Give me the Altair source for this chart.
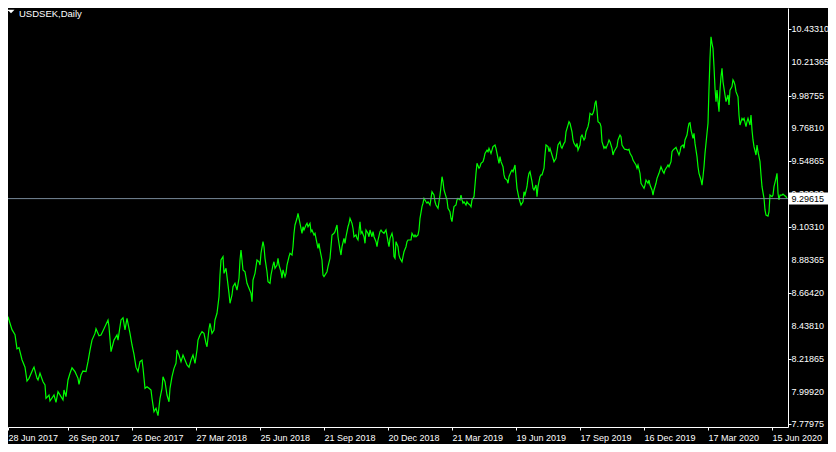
import altair as alt
import pandas as pd

symbol_title = "USDSEK,Daily"
last_price = 9.29615

tick_labels = ["28 Jun 2017", "26 Sep 2017", "26 Dec 2017", "27 Mar 2018", "25 Jun 2018",
               "21 Sep 2018", "20 Dec 2018", "21 Mar 2019", "19 Jun 2019", "17 Sep 2019",
               "16 Dec 2019", "17 Mar 2020", "15 Jun 2020"]
tick_bars = [0, 64, 128, 192, 256, 320, 384, 448, 512, 576, 640, 704, 768]
price_ticks = [10.43310, 10.21365, 9.98755, 9.76810, 9.54865, 9.32920, 9.10310,
               8.88365, 8.66420, 8.43810, 8.21865, 7.99920, 7.77975]

bar = [0, 2, 4, 8, 11, 13, 15, 18, 21, 23, 25, 29, 30, 33, 34, 36, 39, 41, 42, 45, 46, 50, 52, 54, 59, 60, 62, 64,
       66, 68, 71, 74, 75, 77, 79, 82, 84, 86, 88, 91, 92, 95, 97, 100, 104, 105, 107, 110, 113, 114, 117, 119, 121,
       123, 126, 128, 130, 132, 134, 136, 138, 139, 141, 143, 145, 147, 148, 150, 152, 154, 156, 158, 159, 161, 163,
       165, 166, 168, 170, 172, 173, 175, 177, 179, 181, 183, 185, 187, 189, 191, 193, 194, 196, 198, 200, 202, 203,
       205, 206, 208, 210, 211, 213, 215, 216, 217, 219, 220, 222, 223, 225, 226, 228, 229, 231, 233, 235, 236, 237,
       239, 241, 243, 245, 247, 248, 249, 251, 253, 255, 256, 257, 259, 260, 261, 263, 264, 266, 267, 269, 270, 271,
       273, 274, 275, 277, 278, 279, 281, 282, 283, 285, 286, 288, 289, 290, 291, 293, 294, 295, 296, 298, 299, 300,
       302, 303, 304, 306, 307, 308, 310, 311, 312, 314, 315, 316, 318, 319, 320, 322, 323, 324, 326, 327, 328, 330,
       331, 332, 333, 334, 336, 337, 338, 340, 341, 342, 344, 345, 346, 348, 349, 350, 352, 353, 354, 356, 357, 358,
       360, 361, 362, 364, 365, 366, 368, 369, 370, 372, 373, 374, 376, 377, 378, 380, 381, 382, 384, 385, 386, 388,
       389, 390, 391, 392, 394, 395, 396, 398, 399, 400, 402, 403, 404, 406, 407, 408, 410, 411, 412, 414, 415, 416,
       418, 419, 420, 422, 423, 424, 426, 427, 428, 430, 431, 432, 434, 435, 436, 437, 438, 439, 440, 442, 443, 444,
       446, 447, 448, 449, 450, 452, 453, 454, 456, 457, 458, 459, 460, 462, 463, 464, 466, 467, 468, 470, 471, 472,
       473, 475, 476, 477, 479, 480, 481, 483, 484, 485, 487, 488, 489, 491, 492, 493, 495, 496, 497, 499, 500, 501,
       503, 504, 505, 507, 508, 509, 511, 512, 513, 515, 516, 517, 519, 520, 521, 523, 524, 525, 526, 528, 529, 530,
       532, 533, 534, 536, 537, 538, 540, 541, 542, 544, 545, 546, 548, 549, 550, 552, 553, 554, 556, 557, 558, 560,
       561, 562, 564, 565, 566, 568, 569, 570, 572, 573, 574, 576, 577, 578, 580, 581, 582, 584, 585, 586, 588, 589,
       590, 591, 592, 593, 594, 596, 597, 598, 600, 601, 602, 604, 605, 606, 608, 609, 610, 612, 613, 614, 616, 617,
       618, 620, 621, 622, 624, 625, 626, 628, 629, 630, 632, 633, 634, 636, 637, 638, 640, 641, 642, 644, 645, 646,
       648, 649, 650, 652, 653, 655, 656, 657, 659, 660, 661, 663, 664, 665, 667, 668, 669, 671, 672, 673, 675, 676,
       677, 679, 680, 681, 683, 684, 685, 686, 687, 689, 690, 691, 693, 694, 695, 697, 698, 699, 700, 701, 703, 704,
       705, 706, 707, 708, 709, 710, 711, 712, 713, 714, 715, 716, 717, 718, 719, 720, 721, 722, 724, 725, 726, 728,
       729, 730, 731, 732, 734, 735, 736, 738, 739, 740, 742, 743, 744, 746, 747, 748, 749, 750, 752, 753, 754, 756,
       757, 758, 760, 761, 762, 764, 765, 766, 768, 769, 770, 772, 773, 774, 775, 776, 778, 779, 780, 782, 783]

close = [8.537, 8.422, 8.503, 8.416, 8.382, 8.288, 8.295, 8.214, 8.164, 8.071, 8.089, 8.152, 8.164, 8.089, 8.078,
         8.123, 8.066, 8.044, 7.955, 7.977, 7.937, 7.977, 7.928, 7.999, 7.944, 8.011, 7.966, 8.078, 8.123, 8.160,
         8.134, 8.089, 8.049, 8.111, 8.138, 8.134, 8.201, 8.279, 8.346, 8.391, 8.422, 8.375, 8.380, 8.422, 8.481,
         8.436, 8.268, 8.346, 8.380, 8.346, 8.481, 8.496, 8.414, 8.492, 8.391, 8.313, 8.250, 8.164, 8.134, 8.201,
         8.212, 8.160, 8.022, 8.033, 8.022, 8.011, 7.955, 7.865, 7.888, 7.838, 7.955, 8.022, 8.100, 8.066, 7.977,
         7.932, 8.022, 8.100, 8.156, 8.190, 8.279, 8.246, 8.201, 8.246, 8.212, 8.179, 8.164, 8.212, 8.246, 8.190,
         8.279, 8.346, 8.380, 8.402, 8.391, 8.324, 8.301, 8.422, 8.459, 8.391, 8.414, 8.481, 8.526, 8.637, 8.783,
         8.884, 8.906, 8.794, 8.828, 8.772, 8.660, 8.593, 8.649, 8.704, 8.727, 8.682, 8.761, 8.884, 8.951, 8.817,
         8.805, 8.727, 8.694, 8.660, 8.604, 8.749, 8.794, 8.884, 8.872, 8.850, 8.929, 9.007, 8.973, 8.895, 8.805,
         8.738, 8.727, 8.783, 8.850, 8.872, 8.828, 8.850, 8.895, 8.850, 8.805, 8.761, 8.817, 8.772, 8.794, 8.850,
         8.906, 8.929, 8.917, 8.973, 9.063, 9.119, 9.164, 9.197, 9.164, 9.130, 9.063, 9.107, 9.085, 9.119, 9.130,
         9.107, 9.130, 9.074, 9.085, 9.052, 9.063, 9.029, 8.962, 8.996, 8.951, 8.884, 8.783, 8.772, 8.794, 8.805,
         8.839, 8.895, 8.973, 9.052, 9.063, 9.074, 9.097, 9.119, 9.040, 8.951, 8.917, 8.973, 9.029, 8.996, 9.040,
         9.107, 9.130, 9.164, 9.130, 9.097, 9.040, 9.052, 9.029, 9.018, 9.141, 9.063, 9.074, 9.040, 8.996, 9.085,
         9.063, 9.040, 9.085, 9.040, 9.074, 9.040, 9.007, 8.973, 9.018, 9.074, 9.085, 9.074, 9.063, 9.074, 9.085,
         9.007, 8.973, 9.029, 9.063, 9.029, 8.906, 8.895, 9.007, 8.973, 8.917, 8.895, 8.872, 8.906, 8.939, 8.973,
         9.007, 9.018, 9.018, 9.018, 9.063, 9.040, 9.052, 9.040, 9.052, 9.085, 9.164, 9.242, 9.265, 9.298, 9.275,
         9.265, 9.275, 9.253, 9.298, 9.342, 9.320, 9.275, 9.253, 9.231, 9.275, 9.320, 9.376, 9.443, 9.410, 9.354,
         9.309, 9.287, 9.231, 9.208, 9.164, 9.141, 9.197, 9.242, 9.253, 9.287, 9.298, 9.287, 9.320, 9.287, 9.265,
         9.275, 9.253, 9.275, 9.265, 9.253, 9.242, 9.287, 9.309, 9.387, 9.466, 9.533, 9.500, 9.510, 9.533, 9.544,
         9.567, 9.600, 9.622, 9.611, 9.634, 9.600, 9.622, 9.645, 9.656, 9.634, 9.600, 9.533, 9.578, 9.544, 9.510,
         9.455, 9.432, 9.421, 9.399, 9.443, 9.477, 9.488, 9.477, 9.522, 9.443, 9.365, 9.298, 9.275, 9.253, 9.275,
         9.342, 9.320, 9.376, 9.432, 9.466, 9.477, 9.410, 9.365, 9.354, 9.387, 9.309, 9.376, 9.443, 9.455, 9.455,
         9.500, 9.589, 9.656, 9.645, 9.611, 9.634, 9.589, 9.567, 9.544, 9.567, 9.611, 9.656, 9.678, 9.645, 9.634,
         9.667, 9.678, 9.745, 9.790, 9.813, 9.802, 9.745, 9.690, 9.667, 9.645, 9.667, 9.622, 9.656, 9.712, 9.723,
         9.690, 9.701, 9.745, 9.779, 9.813, 9.869, 9.858, 9.869, 9.891, 9.936, 9.954, 9.891, 9.813, 9.802, 9.779,
         9.678, 9.634, 9.645, 9.634, 9.667, 9.690, 9.678, 9.634, 9.589, 9.611, 9.634, 9.645, 9.690, 9.723, 9.712,
         9.656, 9.634, 9.627, 9.627, 9.622, 9.627, 9.600, 9.578, 9.555, 9.544, 9.522, 9.500, 9.522, 9.466, 9.399,
         9.387, 9.365, 9.387, 9.421, 9.399, 9.421, 9.387, 9.354, 9.320, 9.354, 9.399, 9.432, 9.466, 9.488, 9.510,
         9.477, 9.466, 9.488, 9.510, 9.522, 9.510, 9.544, 9.611, 9.622, 9.634, 9.641, 9.622, 9.589, 9.611, 9.645,
         9.656, 9.634, 9.690, 9.723, 9.768, 9.802, 9.806, 9.757, 9.701, 9.735, 9.667, 9.578, 9.510, 9.466, 9.421,
         9.387, 9.443, 9.510, 9.600, 9.735, 9.802, 10.037, 10.238, 10.383, 10.339, 10.305, 10.182, 10.037, 9.947,
         10.025, 9.947, 9.880, 10.025, 10.115, 10.171, 10.081, 10.037, 9.992, 9.947, 9.992, 9.925, 10.025, 10.048,
         10.093, 10.081, 10.059, 10.014, 9.980, 9.858, 9.790, 9.835, 9.824, 9.835, 9.779, 9.813, 9.835, 9.790,
         9.858, 9.757, 9.690, 9.645, 9.589, 9.656, 9.611, 9.544, 9.455, 9.376, 9.298, 9.220, 9.186, 9.179, 9.208,
         9.320, 9.309, 9.320, 9.376, 9.432, 9.466, 9.332, 9.287, 9.320, 9.320, 9.327, 9.320, 9.309, 9.29615]

series = pd.DataFrame({"bar": bar, "price": close})
ticks_df = pd.DataFrame({"price": price_ticks})
last = pd.DataFrame({"price": [last_price], "label": [f"{last_price:.5f}"]})
head = pd.DataFrame({"label": [symbol_title]})

FONT = "Liberation Sans"
x_domain = [4, 784]
y_domain = [7.7622, 10.5762]
xscale = alt.Scale(domain=x_domain, nice=False, zero=False)
yscale = alt.Scale(domain=y_domain, nice=False, zero=False)

label_expr = "[" + ",".join(f"'{t}'" for t in tick_labels) + "][round(datum.value / 64)]"
x_values = [max(b, x_domain[0]) for b in tick_bars]

line = alt.Chart(series).mark_line(color="#00ff00", strokeWidth=1.2, clip=True).encode(
    x=alt.X("bar:Q", scale=xscale, axis=alt.Axis(
        values=x_values, labelExpr=label_expr, title=None, grid=False,
        labelAlign="left", labelBaseline="top", labelPadding=3, tickSize=3,
        labelColor="white", labelFont=FONT, labelFontSize=9,
        domainColor="white", tickColor="white", labelOverlap=False, labelFlush=False)),
    y=alt.Y("price:Q", scale=yscale, axis=alt.Axis(
        orient="right", values=price_ticks, labels=False, title=None, grid=False,
        tickSize=3, domainColor="white", tickColor="white")),
)

bid = alt.Chart(last).mark_rule(color="#778899", strokeWidth=1).encode(
    y=alt.Y("price:Q", scale=yscale))

price_labels = alt.Chart(ticks_df).mark_text(
    align="left", baseline="middle", color="white", font=FONT, fontSize=9, clip=False).encode(
    x=alt.value(783.5), y=alt.Y("price:Q", scale=yscale),
    text=alt.Text("price:Q", format=".5f"))

box = alt.Chart(last).mark_point(
    shape="M-1,-0.3077L1,-0.3077L1,0.3077L-1,0.3077Z", filled=True, size=1521,
    color="white", opacity=1, strokeWidth=0, clip=False).encode(
    x=alt.value(800.5), y=alt.Y("price:Q", scale=yscale))

box_text = alt.Chart(last).mark_text(
    align="left", baseline="middle", color="black", font=FONT, fontSize=9).encode(
    x=alt.value(783.5), y=alt.Y("price:Q", scale=yscale), text="label:N")

tri = alt.Chart(head).mark_point(
    shape="M-1,-0.5L1,-0.5L0,0.5Z", filled=True, size=49, color="white",
    opacity=1, strokeWidth=0).encode(x=alt.value(3), y=alt.value(3.5))

title_text = alt.Chart(head).mark_text(
    align="left", baseline="middle", color="white", font=FONT, fontSize=9.5).encode(
    x=alt.value(11), y=alt.value(5.5), text="label:N")

chart = alt.layer(line, bid, price_labels, box, box_text, tri, title_text).properties(
    width=780, height=419,
    autosize=alt.AutoSizeParams(type="none"),
    padding={"left": 0, "top": 0, "right": 40, "bottom": 17},
    background="black",
).configure_view(strokeWidth=0)

chart.save("out.html", embed_options={"renderer": "svg", "actions": False})
